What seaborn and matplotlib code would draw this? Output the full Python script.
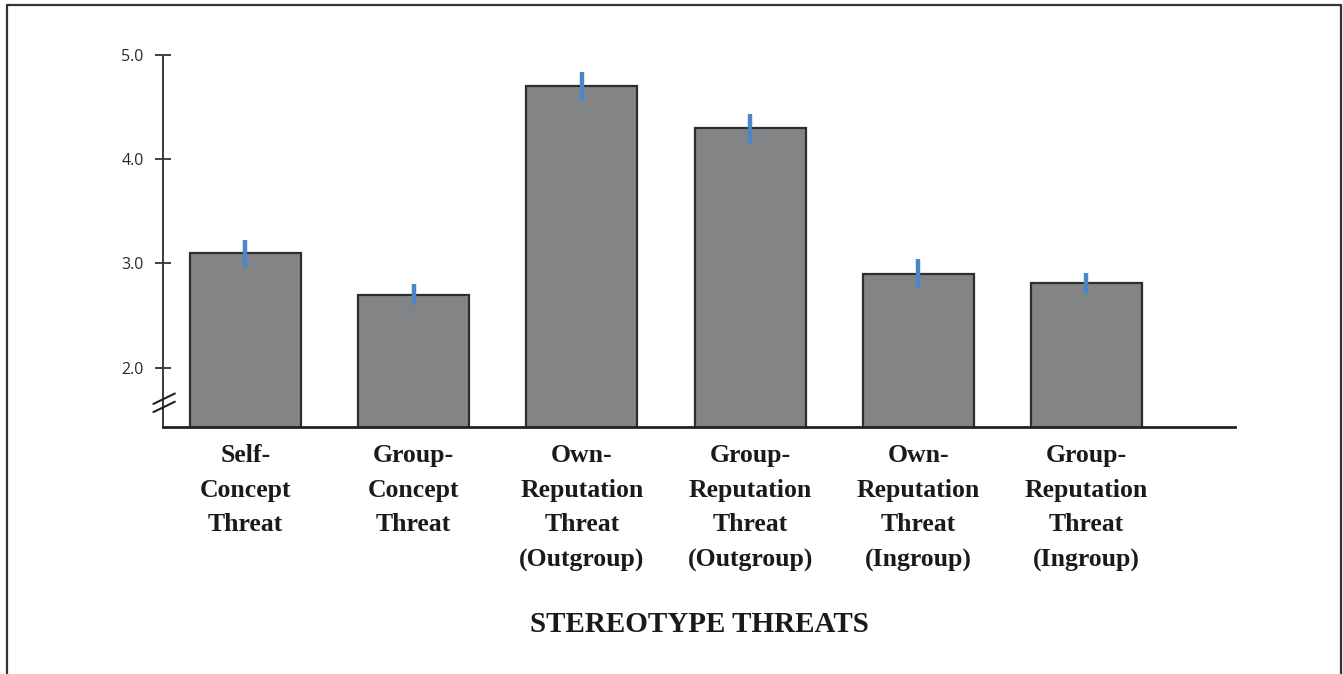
import matplotlib
matplotlib.use("Agg")
import matplotlib.pyplot as plt
from matplotlib.lines import Line2D
import seaborn as sns
import pandas as pd

# Mean ratings and standard errors for each kind of stereotype threat
categories = [
    "Self-\nConcept\nThreat",
    "Group-\nConcept\nThreat",
    "Own-\nReputation\nThreat\n(Outgroup)",
    "Group-\nReputation\nThreat\n(Outgroup)",
    "Own-\nReputation\nThreat\n(Ingroup)",
    "Group-\nReputation\nThreat\n(Ingroup)",
]
means = [3.10, 2.70, 4.70, 4.30, 2.90, 2.81]
errors = [0.13, 0.10, 0.14, 0.14, 0.14, 0.10]
y_ticks = [2.0, 3.0, 4.0, 5.0]
y_tick_labels = ["2.0", "3.0", "4.0", "5.0"]
x_title = "STEREOTYPE THREATS"

df = pd.DataFrame({"threat": categories, "mean": means, "se": errors})

sns.set_theme(style="white")
plt.rcParams["font.family"] = ["DejaVu Sans"]

fig = plt.figure(figsize=(13.43, 6.74), dpi=100)
ax = fig.add_axes([0.1214, 0.3665, 0.7982, 0.5516])

sns.barplot(data=df, x="threat", y="mean", color="#828485", saturation=1,
            width=0.66, edgecolor="#2e2e2e", linewidth=1.6, errorbar=None, ax=ax)
ax.errorbar(range(len(means)), means, yerr=errors, fmt="none",
            ecolor="#4a86c8", elinewidth=3.2, capsize=0, zorder=5)

ax.set_ylim(1.43, 5.0)
ax.set_xlim(-0.49, 5.883)
ax.set_yticks(y_ticks)
ax.set_yticklabels(y_tick_labels, fontsize=11.5, color="#2a2a2a",
                   family=["Open Sans", "DejaVu Sans"])
ax.tick_params(axis="y", direction="inout", length=12, width=1.3,
               color="#333333", pad=8, left=True)
ax.tick_params(axis="x", length=0, pad=12)
ax.set_xticks(range(len(categories)))
ax.set_xticklabels(categories, fontsize=18.5, fontweight="bold", color="#1a1a1a",
                   family=["Liberation Serif"], linespacing=1.66, va="top")
ax.set_xlabel(x_title, fontsize=21, fontweight="bold", color="#1a1a1a",
              family=["Liberation Serif"], labelpad=28)
ax.set_ylabel("")

for side in ["top", "right"]:
    ax.spines[side].set_visible(False)
ax.spines["left"].set_color("#3a3a3a")
ax.spines["left"].set_linewidth(1.4)
ax.spines["bottom"].set_color("#222222")
ax.spines["bottom"].set_linewidth(2.0)

# Axis break marks near the bottom of the y axis
for yc in (0.076, 0.054):
    ax.plot([-0.009, 0.011], [yc - 0.014, yc + 0.014], transform=ax.transAxes,
            color="#222222", lw=1.5, clip_on=False, zorder=6)

# Frame around the figure
for xs, ys in (([0.005, 0.005], [-0.01, 0.9925]),
               ([0.005, 0.9985], [0.9925, 0.9925]),
               ([0.9985, 0.9985], [-0.01, 0.9925])):
    fig.add_artist(Line2D(xs, ys, transform=fig.transFigure, color="#333333", lw=1.6))

fig.savefig("out.png", dpi=100)
